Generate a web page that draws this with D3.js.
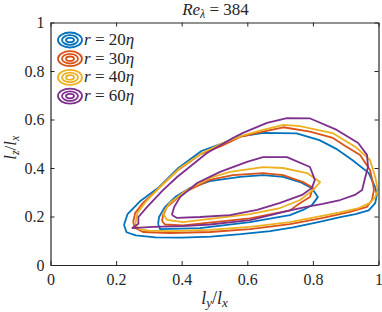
<!DOCTYPE html>
<html><head><meta charset="utf-8">
<script src="https://cdn.jsdelivr.net/npm/d3@7"></script>
<style>
html,body{margin:0;padding:0;background:#fff;}
svg{display:block;}
</style></head>
<body><svg id="chart" width="382" height="312"></svg>
<script>
// ---- data (l_y/l_x, l_z/l_x) ----
const seriesNames = ["20", "30", "40", "60"];
const seriesColors = ["#0072BD", "#D95319", "#EDB120", "#7E2F8E"];
const xTicks = [0, 0.2, 0.4, 0.6, 0.8, 1];
const yTicks = [0, 0.2, 0.4, 0.6, 0.8, 1];

const r20Outer = [[0.224,0.165],[0.232,0.135],[0.26,0.122],[0.32,0.114],[0.40,0.113],[0.49,0.117],[0.58,0.127],[0.67,0.14],[0.74,0.155],[0.82,0.178],[0.88,0.196],[0.93,0.21],[0.97,0.225],[0.99,0.255],[0.995,0.29],[0.99,0.32],[0.97,0.38],[0.92,0.433],[0.87,0.48],[0.82,0.515],[0.75,0.543],[0.65,0.545],[0.58,0.53],[0.52,0.50],[0.46,0.47],[0.39,0.40],[0.33,0.32],[0.275,0.265],[0.235,0.21],[0.224,0.165]];
const r20Inner = [[0.328,0.169],[0.334,0.148],[0.456,0.152],[0.608,0.177],[0.73,0.206],[0.77,0.227],[0.797,0.247],[0.815,0.28],[0.797,0.317],[0.761,0.342],[0.709,0.363],[0.648,0.371],[0.578,0.363],[0.486,0.346],[0.425,0.317],[0.38,0.28],[0.349,0.239],[0.331,0.198],[0.328,0.169]];

const r30Outer = [[0.252,0.177],[0.258,0.153],[0.282,0.136],[0.364,0.132],[0.486,0.136],[0.608,0.148],[0.73,0.169],[0.831,0.194],[0.913,0.219],[0.965,0.24],[0.98,0.268],[0.986,0.309],[0.983,0.338],[0.974,0.392],[0.944,0.454],[0.90,0.49],[0.861,0.524],[0.791,0.55],[0.71,0.568],[0.648,0.55],[0.578,0.528],[0.52,0.49],[0.456,0.456],[0.389,0.392],[0.334,0.322],[0.282,0.256],[0.258,0.214],[0.252,0.177]];
const r30Inner = [[0.34,0.181],[0.349,0.167],[0.404,0.163],[0.608,0.192],[0.73,0.225],[0.752,0.247],[0.791,0.28],[0.80,0.318],[0.77,0.342],[0.709,0.371],[0.648,0.379],[0.556,0.371],[0.486,0.351],[0.404,0.297],[0.355,0.239],[0.343,0.206],[0.34,0.181]];

const r40Outer = [[0.258,0.165],[0.27,0.148],[0.30,0.142],[0.364,0.14],[0.486,0.145],[0.608,0.157],[0.73,0.177],[0.883,0.217],[0.94,0.235],[0.974,0.256],[0.99,0.28],[0.998,0.309],[0.99,0.363],[0.974,0.433],[0.93,0.487],[0.86,0.544],[0.76,0.573],[0.71,0.578],[0.648,0.557],[0.59,0.536],[0.52,0.50],[0.46,0.46],[0.395,0.40],[0.34,0.33],[0.29,0.26],[0.265,0.215],[0.258,0.165]];
const r40Inner = [[0.343,0.214],[0.355,0.186],[0.404,0.177],[0.608,0.21],[0.70,0.235],[0.761,0.268],[0.80,0.309],[0.822,0.342],[0.782,0.379],[0.709,0.40],[0.648,0.404],[0.547,0.384],[0.486,0.359],[0.416,0.309],[0.364,0.256],[0.343,0.214]];

const r60Outer = [[0.248,0.152],[0.313,0.157],[0.40,0.16],[0.486,0.167],[0.608,0.185],[0.73,0.225],[0.78,0.24],[0.83,0.252],[0.883,0.268],[0.928,0.289],[0.95,0.309],[0.959,0.359],[0.968,0.404],[0.965,0.454],[0.938,0.503],[0.873,0.557],[0.79,0.605],[0.721,0.606],[0.66,0.586],[0.587,0.545],[0.556,0.524],[0.477,0.462],[0.386,0.363],[0.343,0.309],[0.294,0.239],[0.268,0.198],[0.268,0.17],[0.248,0.152]];
const r60Inner = [[0.37,0.206],[0.386,0.194],[0.456,0.198],[0.547,0.206],[0.63,0.227],[0.70,0.256],[0.767,0.289],[0.797,0.318],[0.806,0.351],[0.791,0.404],[0.721,0.445],[0.648,0.445],[0.599,0.425],[0.517,0.384],[0.447,0.338],[0.395,0.28],[0.377,0.239],[0.37,0.206]];

const contourSets = [[r20Outer, r20Inner], [r30Outer, r30Inner], [r40Outer, r40Inner], [r60Outer, r60Inner]];

// ---- layout ----
const svg = d3.select("#chart");
const x = d3.scaleLinear().domain([0, 1]).range([50.5, 378.5]);
const y = d3.scaleLinear().domain([0, 1]).range([265, 22.5]);
const axisColor = "#262626";
const FONT = "Liberation Serif";

// contours
const line = d3.line().x(d => x(d[0])).y(d => y(d[1]));
const plot = svg.append("g");
contourSets.forEach((set, i) => {
  set.forEach(c => {
    plot.append("path").attr("d", line(c)).attr("fill", "none")
      .attr("stroke", seriesColors[i]).attr("stroke-width", 1.8)
      .attr("stroke-linejoin", "round");
  });
});

// axes
function styleAxis(g) {
  g.attr("font-family", FONT).attr("font-size", 16);
  g.selectAll(".domain").attr("stroke", axisColor).attr("stroke-width", 1.2);
  g.selectAll(".tick line").attr("stroke", axisColor).attr("stroke-width", 1);
  g.selectAll("text").attr("font-family", FONT).attr("font-size", 16).attr("fill", axisColor);
}
const fmt = d => String(d);
svg.append("g").attr("transform", `translate(0,${y(0)})`)
  .call(d3.axisBottom(x).tickValues(xTicks).tickFormat(fmt).tickSizeInner(-4).tickSizeOuter(0).tickPadding(9))
  .call(styleAxis);
svg.append("g").attr("transform", `translate(${x(0)},0)`)
  .call(d3.axisLeft(y).tickValues(yTicks).tickFormat(fmt).tickSizeInner(-4).tickSizeOuter(0).tickPadding(6))
  .call(styleAxis);
svg.append("g").attr("transform", `translate(0,${y(1)})`)
  .call(d3.axisTop(x).tickValues(xTicks).tickFormat("").tickSizeInner(-4).tickSizeOuter(0))
  .call(styleAxis);
svg.append("g").attr("transform", `translate(${x(1)},0)`)
  .call(d3.axisRight(y).tickValues(yTicks).tickFormat("").tickSizeInner(-4).tickSizeOuter(0))
  .call(styleAxis);

// title
const cx = (x(0) + x(1)) / 2;
const title = svg.append("text").attr("x", cx + 1).attr("y", 15).attr("text-anchor", "middle")
  .attr("font-size", 17).attr("font-family", FONT).attr("fill", axisColor);
title.append("tspan").attr("font-style", "italic").text("Re");
title.append("tspan").attr("font-style", "italic").attr("font-size", 12).attr("dy", 3).text("λ");
title.append("tspan").attr("dy", -3).text(" = 384");

// x label
const xl = svg.append("text").attr("x", cx).attr("y", 304).attr("text-anchor", "middle")
  .attr("font-size", 18).attr("font-style", "italic").attr("font-family", FONT).attr("fill", axisColor);
xl.append("tspan").text("l");
xl.append("tspan").attr("font-size", 13).attr("dy", 3).text("y");
xl.append("tspan").attr("dy", -3).attr("font-style", "normal").text("/");
xl.append("tspan").text("l");
xl.append("tspan").attr("font-size", 13).attr("dy", 3).text("x");

// y label
const yl = svg.append("text").attr("transform", `translate(16,${(y(0) + y(1)) / 2 + 4}) rotate(-90)`)
  .attr("text-anchor", "middle").attr("font-size", 17).attr("font-style", "italic")
  .attr("font-family", FONT).attr("fill", axisColor);
yl.append("tspan").text("l");
yl.append("tspan").attr("font-size", 12).attr("dy", 3).text("z");
yl.append("tspan").attr("dy", -3).attr("font-style", "normal").text("/");
yl.append("tspan").text("l");
yl.append("tspan").attr("font-size", 12).attr("dy", 3).text("x");

// legend
const legend = svg.append("g");
seriesNames.forEach((name, i) => {
  const ly = 40 + i * 18.7;
  const g = legend.append("g").attr("transform", `translate(70,${ly})`);
  [[12, 7.5], [8, 4.8], [4, 2.2]].forEach(([rx, ry]) => {
    g.append("ellipse").attr("rx", rx).attr("ry", ry).attr("fill", "none")
      .attr("stroke", seriesColors[i]).attr("stroke-width", 1.8);
  });
  const t = legend.append("text").attr("x", 84).attr("y", ly + 5).attr("font-size", 17)
    .attr("font-family", FONT).attr("fill", axisColor);
  t.append("tspan").attr("font-style", "italic").text("r");
  t.append("tspan").text(" = " + name);
  t.append("tspan").attr("font-style", "italic").text("η");
});
</script></body></html>
